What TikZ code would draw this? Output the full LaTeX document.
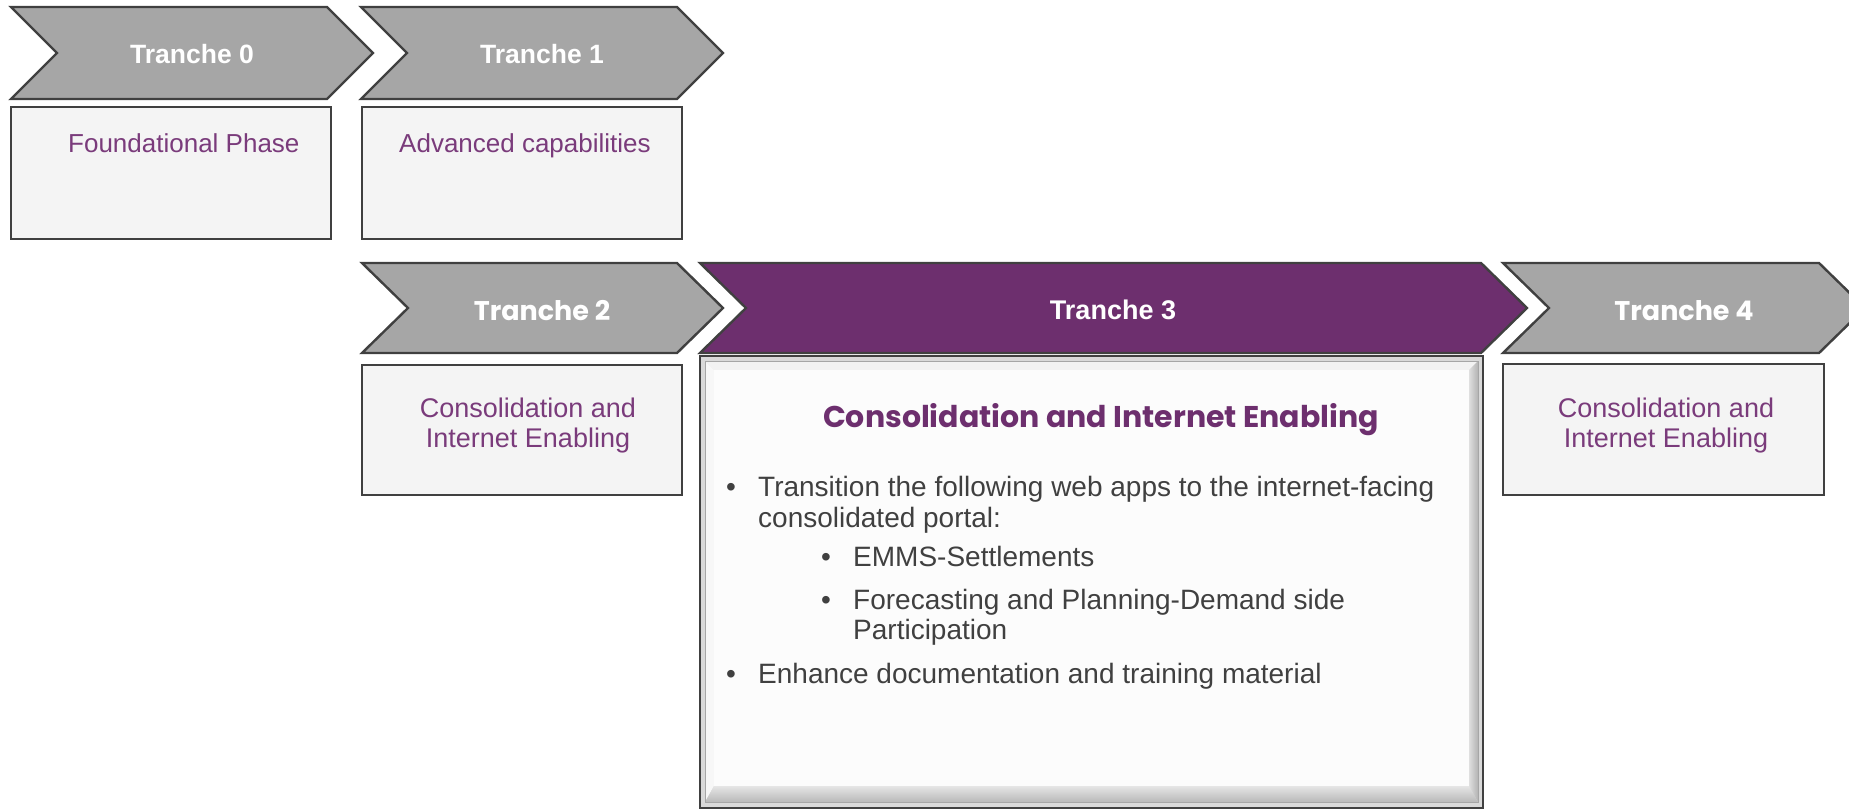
\documentclass[tikz,border=0pt]{standalone}
\usepackage{fontspec}
\setmainfont{Liberation Sans}
\newfontfamily\gothic{Poppins}
\definecolor{chevgray}{HTML}{A6A6A6}
\definecolor{edgegray}{HTML}{404040}
\definecolor{boxfill}{HTML}{F4F4F4}
\definecolor{chevpurple}{HTML}{6D2F6E}
\definecolor{txtpurple}{HTML}{7A3B7B}
\definecolor{bodygray}{HTML}{404040}
\newcommand{\chevshape}[5]{%
  \path[#5] (#1,#3) -- (#2,#3) -- ({#2+46},{(#3+#4)/2}) -- (#2,#4) -- (#1,#4) -- ({#1+46},{(#3+#4)/2}) -- cycle;}
\begin{document}
\begin{tikzpicture}[x=1pt,y=-1pt,
  chevg/.style={fill=chevgray,draw=edgegray,line width=2.4pt,line join=miter},
  chevp/.style={fill=chevpurple,draw=edgegray,line width=2.4pt,line join=miter},
  tbox/.style={fill=boxfill,draw=edgegray,line width=2.4pt},
  lab/.style={anchor=base,inner sep=0pt,text=white,font=\bfseries\fontsize{26.5}{30}\selectfont},
  labg/.style={anchor=base,inner sep=0pt,text=white,font=\gothic\bfseries\fontsize{27}{32}\selectfont},
  boxtxt/.style={inner sep=0pt,text=txtpurple,font=\fontsize{26}{31}\selectfont},
  boxtxtb/.style={anchor=base,inner sep=0pt,text=txtpurple,font=\fontsize{27}{31}\selectfont},
  body/.style={anchor=base west,inner sep=0pt,text=bodygray,font=\fontsize{28}{32}\selectfont}]
\useasboundingbox (0,0) rectangle (1849,809);
\clip (0,0) rectangle (1849,809);
\fill[white] (0,0) rectangle (1849,809);
% chevrons
\chevshape{11}{327}{7}{99}{chevg}
\chevshape{361}{677}{7}{99}{chevg}
\chevshape{362}{677}{263}{353}{chevg}
\chevshape{700}{1481}{263}{353}{chevp}
\chevshape{1503}{1819}{263}{353}{chevg}
% simple boxes
\path[tbox] (11,107) rectangle (331,239);
\path[tbox] (362,107) rectangle (682,239);
\path[tbox] (362,365) rectangle (682,495);
\path[tbox] (1503,364) rectangle (1824,495);
% bevelled box of tranche 3
\fill[gray!30] (700,356) rectangle (1483,808);
\fill[white!90!gray] (705,361) -- (1478,361) -- (1469,370) -- (714,370) -- cycle;
\fill[white!94!gray] (705,361) -- (714,370) -- (714,786) -- (705,802) -- cycle;
\shade[left color=gray!25,right color=gray!60] (1478,361) -- (1478,802) -- (1469,786) -- (1469,370) -- cycle;
\shade[top color=gray!20,bottom color=gray!55] (705,802) -- (714,786) -- (1469,786) -- (1478,802) -- cycle;
\fill[white!98!gray] (714,370) rectangle (1469,786);
\draw[gray!70,line width=0.8pt] (705,361) rectangle (1478,802);
\draw[edgegray,line width=2.4pt] (700,356) rectangle (1483,808);
% chevron labels
\node[lab] (l0) at (192,63) {Tranche 0};
\node[lab] (l1) at (542,63) {Tranche 1};
\node[labg] (l2) at (542,320) {Tranche 2};
\node[lab,font=\bfseries\fontsize{27}{30}\selectfont] (l3) at (1113,319) {Tranche 3};
\node[labg] (l4) at (1684,320) {Tranche 4};
% box texts
\node[boxtxt,anchor=base west] (t0) at (68,152) {Foundational Phase};
\node[boxtxt,anchor=base west] (t1) at (399,152) {Advanced capabilities};
\node[boxtxtb] (t2a) at (528,417) {Consolidation and};
\node[boxtxtb] (t2b) at (528,447) {Internet Enabling};
\node[boxtxtb] (t4a) at (1666,417) {Consolidation and};
\node[boxtxtb] (t4b) at (1666,447) {Internet Enabling};
% tranche 3 content
\node[anchor=base,inner sep=0pt,text=chevpurple,font=\gothic\bfseries\fontsize{30}{36}\selectfont] (t3title) at (1101,427) {Consolidation and Internet Enabling};
\node[body] (b1) at (726,496) {•};
\node[body] (l1a) at (758,496) {Transition the following web apps to the internet-facing};
\node[body] (l1b) at (758,527) {consolidated portal:};
\node[body] (b2) at (821,566) {•};
\node[body] (l2a) at (853,566) {EMMS-Settlements};
\node[body] (b3) at (821,609) {•};
\node[body] (l3a) at (853,609) {Forecasting and Planning-Demand side};
\node[body] (l3b) at (853,639) {Participation};
\node[body] (b4) at (726,683) {•};
\node[body] (l4a) at (758,683) {Enhance documentation and training material};
\end{tikzpicture}
\end{document}
